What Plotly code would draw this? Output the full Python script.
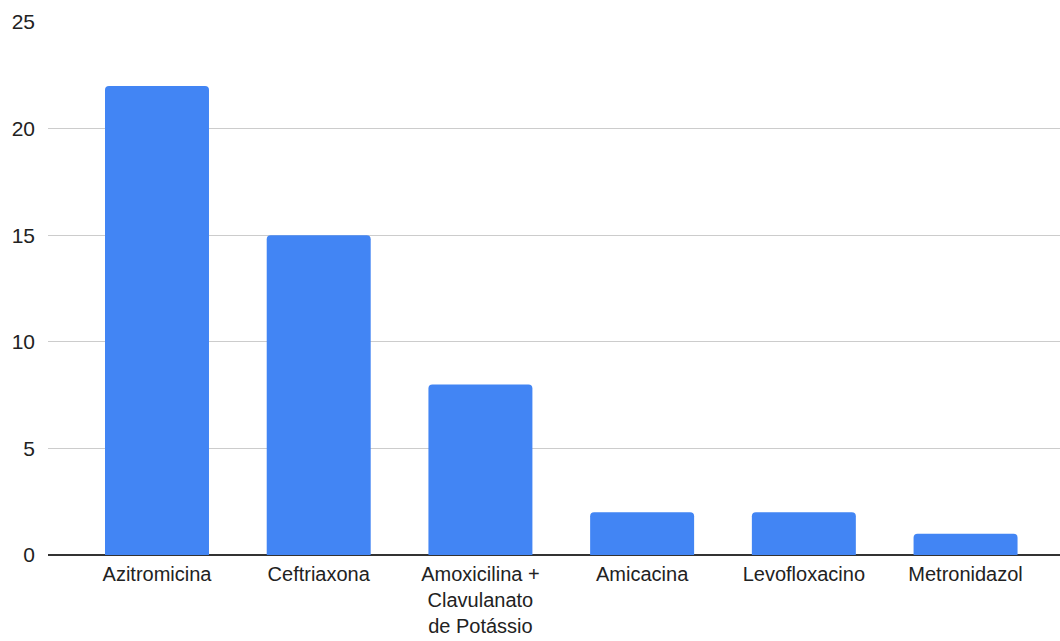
import plotly.graph_objects as go

# Antibiotic usage counts
categories = [
    "Azitromicina",
    "Ceftriaxona",
    "Amoxicilina +<br>Clavulanato<br>de Potássio",
    "Amicacina",
    "Levofloxacino",
    "Metronidazol",
]
counts = [22, 15, 8, 2, 2, 1]
y_ticks = [0, 5, 10, 15, 20, 25]

fig = go.Figure(
    go.Bar(
        x=list(range(len(categories))),
        y=counts,
        width=0.643,
        marker=dict(color="#4285F4", line=dict(width=0), cornerradius=4),
        hoverinfo="skip",
    )
)

fig.update_layout(
    width=1060,
    height=641,
    margin=dict(l=48, r=0, t=22, b=86),
    plot_bgcolor="white",
    paper_bgcolor="white",
    showlegend=False,
    font=dict(family="Liberation Sans, Arial, sans-serif", size=21, color="#222222"),
    xaxis=dict(
        range=[-0.674, 5.584],
        tickmode="array",
        tickvals=list(range(len(categories))),
        ticktext=categories,
        showgrid=False,
        zeroline=False,
        showline=False,
        ticks="",
        ticklabelstandoff=5,
        tickfont=dict(size=20),
        automargin=False,
    ),
    yaxis=dict(
        range=[0, 25],
        tickmode="array",
        tickvals=y_ticks,
        ticktext=[str(v) for v in y_ticks],
        showgrid=True,
        gridcolor="#cccccc",
        gridwidth=1,
        zeroline=True,
        zerolinecolor="#333333",
        zerolinewidth=2,
        showline=False,
        ticks="",
        ticklabelstandoff=12,
        tickfont=dict(size=21),
        automargin=False,
    ),
)

fig.write_html("out.html")
